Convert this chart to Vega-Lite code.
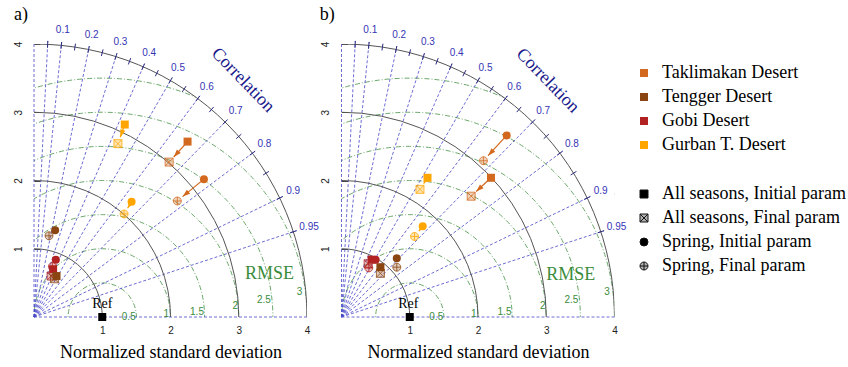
{
  "$schema": "https://vega.github.io/schema/vega-lite/v6.json",
  "padding": {"left": 13, "top": 6, "right": 0, "bottom": 0},
  "background": "white",
  "spacing": 34.5,
  "bounds": "flush",
  "config": {
    "view": {"stroke": null},
    "axis": {"grid": false, "domain": false, "labelFont": "Liberation Sans", "labelFontSize": 10, "labelColor": "#222222", "titleFont": "Liberation Serif", "titleFontSize": 18, "titleFontWeight": "normal", "titleColor": "black", "labelFlush": false, "labelBound": false}
  },
  "datasets": {
    "stdCircles": [{"x": 0, "y": 0, "r": 1}, {"x": 0, "y": 0, "r": 2}, {"x": 0, "y": 0, "r": 3}, {"x": 0, "y": 0, "r": 4}],
    "rmseCircles": [{"x": 1, "y": 0, "r": 0.5}, {"x": 1, "y": 0, "r": 1}, {"x": 1, "y": 0, "r": 1.5}, {"x": 1, "y": 0, "r": 2}, {"x": 1, "y": 0, "r": 2.5}, {"x": 1, "y": 0, "r": 3}, {"x": 1, "y": 0, "r": 3.5}],
    "mask": [{"x": 0, "y": 0, "r1": 4, "r2": 6, "t1": 0, "t2": 1.5708}],
    "corrLines": [
      {"c": 0, "x": 0, "y": 0, "x2": 0, "y2": 4},
      {"c": 0.05, "x": 0, "y": 0, "x2": 0.2025, "y2": 4.0449},
      {"c": 0.1, "x": 0, "y": 0, "x2": 0.405, "y2": 4.0297},
      {"c": 0.2, "x": 0, "y": 0, "x2": 0.81, "y2": 3.9682},
      {"c": 0.3, "x": 0, "y": 0, "x2": 1.215, "y2": 3.8635},
      {"c": 0.4, "x": 0, "y": 0, "x2": 1.62, "y2": 3.7119},
      {"c": 0.5, "x": 0, "y": 0, "x2": 2.025, "y2": 3.5074},
      {"c": 0.6, "x": 0, "y": 0, "x2": 2.43, "y2": 3.24},
      {"c": 0.7, "x": 0, "y": 0, "x2": 2.835, "y2": 2.8923},
      {"c": 0.8, "x": 0, "y": 0, "x2": 3.24, "y2": 2.43},
      {"c": 0.9, "x": 0, "y": 0, "x2": 3.645, "y2": 1.7654},
      {"c": 0.95, "x": 0, "y": 0, "x2": 3.8475, "y2": 1.2646},
      {"c": 1, "x": 0, "y": 0, "x2": 4, "y2": 0}
    ],
    "corrTicks": [
      {"x": 0.1975, "y": 3.9451, "x2": 0.2025, "y2": 4.0449},
      {"x": 0.395, "y": 3.9302, "x2": 0.405, "y2": 4.0297},
      {"x": 0.5925, "y": 3.9053, "x2": 0.6075, "y2": 4.0042},
      {"x": 0.79, "y": 3.8702, "x2": 0.81, "y2": 3.9682},
      {"x": 0.9875, "y": 3.8246, "x2": 1.0125, "y2": 3.9214},
      {"x": 1.185, "y": 3.7681, "x2": 1.215, "y2": 3.8635},
      {"x": 1.3825, "y": 3.7002, "x2": 1.4175, "y2": 3.7938},
      {"x": 1.58, "y": 3.6203, "x2": 1.62, "y2": 3.7119},
      {"x": 1.7775, "y": 3.5275, "x2": 1.8225, "y2": 3.6168},
      {"x": 1.975, "y": 3.4208, "x2": 2.025, "y2": 3.5074},
      {"x": 2.1725, "y": 3.2989, "x2": 2.2275, "y2": 3.3824},
      {"x": 2.37, "y": 3.16, "x2": 2.43, "y2": 3.24},
      {"x": 2.5675, "y": 3.0017, "x2": 2.6325, "y2": 3.0777},
      {"x": 2.765, "y": 2.8209, "x2": 2.835, "y2": 2.8923},
      {"x": 2.9625, "y": 2.6127, "x2": 3.0375, "y2": 2.6788},
      {"x": 3.16, "y": 2.37, "x2": 3.24, "y2": 2.43},
      {"x": 3.3575, "y": 2.0808, "x2": 3.4425, "y2": 2.1335},
      {"x": 3.555, "y": 1.7218, "x2": 3.645, "y2": 1.7654},
      {"x": 3.7525, "y": 1.2334, "x2": 3.8475, "y2": 1.2646}
    ],
    "corrLabels": [
      {"label": "0.1", "x": 0.422, "y": 4.199},
      {"label": "0.2", "x": 0.844, "y": 4.135},
      {"label": "0.3", "x": 1.266, "y": 4.026},
      {"label": "0.4", "x": 1.688, "y": 3.868},
      {"label": "0.5", "x": 2.11, "y": 3.655},
      {"label": "0.6", "x": 2.532, "y": 3.376},
      {"label": "0.7", "x": 2.954, "y": 3.014},
      {"label": "0.8", "x": 3.376, "y": 2.532},
      {"label": "0.9", "x": 3.798, "y": 1.839},
      {"label": "0.95", "x": 4.03, "y": 1.318}
    ],
    "rmseLabels": [
      {"label": "0.5", "x": 1.49, "y": 0.0},
      {"label": "1", "x": 1.98, "y": 0.04},
      {"label": "1.5", "x": 2.49, "y": 0.08},
      {"label": "2", "x": 2.99, "y": 0.16},
      {"label": "2.5", "x": 3.47, "y": 0.25},
      {"label": "3", "x": 3.93, "y": 0.36}
    ],
    "ref": [{"x": 1, "y": 0}],
    "initA": [
      {"desert": "Taklimakan Desert", "type": "All seasons, Initial param", "x": 2.25, "y": 2.57},
      {"desert": "Taklimakan Desert", "type": "Spring, Initial param", "x": 2.49, "y": 2.02},
      {"desert": "Gurban T. Desert", "type": "All seasons, Initial param", "x": 1.33, "y": 2.82},
      {"desert": "Gurban T. Desert", "type": "Spring, Initial param", "x": 1.43, "y": 1.69},
      {"desert": "Tengger Desert", "type": "Spring, Initial param", "x": 0.31, "y": 1.27},
      {"desert": "Gobi Desert", "type": "Spring, Initial param", "x": 0.32, "y": 0.84},
      {"desert": "Gobi Desert", "type": "All seasons, Initial param", "x": 0.28, "y": 0.7},
      {"desert": "Tengger Desert", "type": "All seasons, Initial param", "x": 0.33, "y": 0.6}
    ],
    "finalA": [
      {"desert": "Taklimakan Desert", "type": "All seasons, Final param", "x": 1.98, "y": 2.27},
      {"desert": "Taklimakan Desert", "type": "Spring, Final param", "x": 2.1, "y": 1.7},
      {"desert": "Gurban T. Desert", "type": "All seasons, Final param", "x": 1.23, "y": 2.54},
      {"desert": "Gurban T. Desert", "type": "Spring, Final param", "x": 1.32, "y": 1.51},
      {"desert": "Tengger Desert", "type": "Spring, Final param", "x": 0.22, "y": 1.19},
      {"desert": "Gobi Desert", "type": "Spring, Final param", "x": 0.27, "y": 0.74},
      {"desert": "Gobi Desert", "type": "All seasons, Final param", "x": 0.25, "y": 0.6},
      {"desert": "Tengger Desert", "type": "All seasons, Final param", "x": 0.3, "y": 0.56}
    ],
    "initB": [
      {"desert": "Taklimakan Desert", "type": "All seasons, Initial param", "x": 2.19, "y": 2.04},
      {"desert": "Taklimakan Desert", "type": "Spring, Initial param", "x": 2.42, "y": 2.66},
      {"desert": "Gurban T. Desert", "type": "All seasons, Initial param", "x": 1.26, "y": 2.04},
      {"desert": "Gurban T. Desert", "type": "Spring, Initial param", "x": 1.19, "y": 1.33},
      {"desert": "Tengger Desert", "type": "Spring, Initial param", "x": 0.81, "y": 0.86},
      {"desert": "Tengger Desert", "type": "All seasons, Initial param", "x": 0.57, "y": 0.73},
      {"desert": "Gobi Desert", "type": "Spring, Initial param", "x": 0.5, "y": 0.84},
      {"desert": "Gobi Desert", "type": "All seasons, Initial param", "x": 0.44, "y": 0.84}
    ],
    "finalB": [
      {"desert": "Taklimakan Desert", "type": "All seasons, Final param", "x": 1.9, "y": 1.77},
      {"desert": "Taklimakan Desert", "type": "Spring, Final param", "x": 2.08, "y": 2.29},
      {"desert": "Gurban T. Desert", "type": "All seasons, Final param", "x": 1.15, "y": 1.87},
      {"desert": "Gurban T. Desert", "type": "Spring, Final param", "x": 1.07, "y": 1.18},
      {"desert": "Tengger Desert", "type": "Spring, Final param", "x": 0.81, "y": 0.73},
      {"desert": "Tengger Desert", "type": "All seasons, Final param", "x": 0.57, "y": 0.64},
      {"desert": "Gobi Desert", "type": "Spring, Final param", "x": 0.4, "y": 0.72},
      {"desert": "Gobi Desert", "type": "All seasons, Final param", "x": 0.39, "y": 0.78}
    ],
    "arrowsA": [
      {"desert": "Gurban T. Desert", "x": 1.33, "y": 2.82, "x2": 1.264, "y2": 2.634, "heading": -160.5},
      {"desert": "Taklimakan Desert", "x": 2.25, "y": 2.57, "x2": 2.047, "y2": 2.344, "heading": -138.1},
      {"desert": "Taklimakan Desert", "x": 2.49, "y": 2.02, "x2": 2.177, "y2": 1.764, "heading": -129.3},
      {"desert": "Gurban T. Desert", "x": 1.43, "y": 1.69, "x2": 1.372, "y2": 1.595, "heading": -148.6}
    ],
    "arrowsB": [
      {"desert": "Taklimakan Desert", "x": 2.42, "y": 2.66, "x2": 2.148, "y2": 2.364, "heading": -137.4},
      {"desert": "Taklimakan Desert", "x": 2.19, "y": 2.04, "x2": 1.973, "y2": 1.838, "heading": -133.0},
      {"desert": "Gurban T. Desert", "x": 1.26, "y": 2.04, "x2": 1.204, "y2": 1.954, "heading": -146.9},
      {"desert": "Gurban T. Desert", "x": 1.19, "y": 1.33, "x2": 1.133, "y2": 1.258, "heading": -141.6}
    ]
  },
  "hconcat": [
    {
      "width": 273, "height": 273,
      "encoding": {
        "x": {"field": "x", "type": "quantitative", "scale": {"domain": [0, 4], "nice": false, "zero": true}, "axis": {"values": [1, 2, 3, 4], "ticks": false, "labelPadding": 8, "title": "Normalized standard deviation", "titlePadding": 8}},
        "y": {"field": "y", "type": "quantitative", "scale": {"domain": [0, 4], "nice": false, "zero": true}, "axis": {"values": [1, 2, 3, 4], "labelAngle": -90, "tickSize": -6, "tickColor": "#444444", "labelPadding": 17, "title": null}}
      },
      "layer": [
        {"data": {"name": "rmseCircles"}, "mark": {"type": "point", "shape": "circle", "filled": false, "clip": true, "opacity": 1, "stroke": "#5a9e5a", "strokeWidth": 0.9, "strokeDash": [5, 2, 1, 2]},
         "encoding": {"size": {"field": "r", "type": "quantitative", "scale": {"type": "pow", "exponent": 2, "domain": [0, 4], "range": [0, 298116]}, "legend": null}}},
        {"data": {"name": "mask"}, "mark": {"type": "arc", "fill": "white", "clip": true},
         "encoding": {
           "theta": {"field": "t1", "type": "quantitative", "scale": null},
           "theta2": {"field": "t2"},
           "radius": {"field": "r1", "type": "quantitative", "scale": {"type": "linear", "domain": [0, 4], "range": [0, 273], "zero": true}},
           "radius2": {"field": "r2"}}},
        {"data": {"name": "corrLines"}, "mark": {"type": "rule", "stroke": "#4646c8", "strokeWidth": 0.8, "strokeDash": [3, 2]},
         "encoding": {"x2": {"field": "x2"}, "y2": {"field": "y2"}}},
        {"data": {"name": "stdCircles"}, "mark": {"type": "point", "shape": "circle", "filled": false, "clip": true, "opacity": 1, "stroke": "#555555", "strokeWidth": 1},
         "encoding": {"size": {"field": "r", "type": "quantitative", "scale": {"type": "pow", "exponent": 2, "domain": [0, 4], "range": [0, 298116]}, "legend": null}}},
        {"data": {"name": "corrTicks"}, "mark": {"type": "rule", "stroke": "#2a2a80", "strokeWidth": 1},
         "encoding": {"x2": {"field": "x2"}, "y2": {"field": "y2"}}},
        {"data": {"name": "corrLabels"}, "mark": {"type": "text", "font": "Liberation Sans", "fontSize": 10, "fill": "#3535b5", "align": "center", "baseline": "middle"},
         "encoding": {"text": {"field": "label"}}},
        {"data": {"name": "rmseLabels"}, "mark": {"type": "text", "font": "Liberation Sans", "fontSize": 10, "fill": "#3c8c3c", "align": "right", "baseline": "middle"},
         "encoding": {"text": {"field": "label"}}},
        {"data": {"values": [{"t": "Correlation", "x": 3.06, "y": 3.47}]}, "mark": {"type": "text", "font": "Liberation Serif", "fontSize": 18, "fill": "#1a1a8c", "angle": 46, "align": "center", "baseline": "middle"},
         "encoding": {"text": {"field": "t"}}},
        {"data": {"values": [{"t": "RMSE", "x": 3.45, "y": 0.63}]}, "mark": {"type": "text", "font": "Liberation Serif", "fontSize": 18, "fill": "#3c8c3c", "align": "center", "baseline": "middle"},
         "encoding": {"text": {"field": "t"}}},
        {"data": {"values": [{"t": "Ref", "x": 1.0, "y": 0.19}]}, "mark": {"type": "text", "font": "Liberation Serif", "fontSize": 14, "fill": "black", "align": "center", "baseline": "middle"},
         "encoding": {"text": {"field": "t"}}},
        {"data": {"values": [{"t": "a)", "x": -0.19, "y": 4.42}]}, "mark": {"type": "text", "font": "Liberation Serif", "fontSize": 18, "fill": "black", "align": "center", "baseline": "middle"},
         "encoding": {"text": {"field": "t"}}},
        {"data": {"name": "ref"}, "mark": {"type": "point", "shape": "square", "filled": true, "fill": "black", "opacity": 1, "size": 64}},
        {"data": {"name": "arrowsA"}, "mark": {"type": "rule", "strokeWidth": 1.2},
         "encoding": {"x2": {"field": "x2"}, "y2": {"field": "y2"},
           "color": {"field": "desert", "type": "nominal", "scale": {"domain": ["Taklimakan Desert", "Tengger Desert", "Gobi Desert", "Gurban T. Desert"], "range": ["#D2691E", "#8B4513", "#B22222", "#FFA500"]},
             "legend": {"title": null, "orient": "none", "legendX": 601, "legendY": 20, "symbolType": "square", "symbolSize": 64, "symbolStrokeWidth": 0, "symbolOpacity": 1, "symbolFillColor": "black", "labelFont": "Liberation Serif", "labelFontSize": 18, "labelColor": "black", "labelOffset": 9, "labelLimit": 300, "rowPadding": 6, "padding": 0, "encode": {"symbols": {"update": {"fill": {"scale": "color", "field": "value"}, "fillOpacity": {"value": 1}, "strokeWidth": {"value": 0}, "opacity": {"value": 1}}}}}}}},
        {"data": {"name": "finalA"}, "mark": {"type": "point", "filled": true, "opacity": 1, "fillOpacity": 0.3, "strokeWidth": 0, "size": 64},
         "encoding": {
           "color": {"field": "desert", "type": "nominal", "scale": {"domain": ["Taklimakan Desert", "Tengger Desert", "Gobi Desert", "Gurban T. Desert"], "range": ["#D2691E", "#8B4513", "#B22222", "#FFA500"]},
             "legend": {"title": null, "orient": "none", "legendX": 601, "legendY": 20, "symbolType": "square", "symbolSize": 64, "symbolStrokeWidth": 0, "symbolOpacity": 1, "symbolFillColor": "black", "labelFont": "Liberation Serif", "labelFontSize": 18, "labelColor": "black", "labelOffset": 9, "labelLimit": 300, "rowPadding": 6, "padding": 0, "encode": {"symbols": {"update": {"fill": {"scale": "color", "field": "value"}, "fillOpacity": {"value": 1}, "strokeWidth": {"value": 0}, "opacity": {"value": 1}}}}}},
           "shape": {"field": "type", "type": "nominal", "scale": {"domain": ["All seasons, Initial param", "All seasons, Final param", "Spring, Initial param", "Spring, Final param"], "range": ["square", "M-1,-1H1V1H-1Z M-1,-1L1,1 M1,-1L-1,1", "circle", "M-1,0A1,1,0,1,0,1,0A1,1,0,1,0,-1,0Z M-1,0H1 M0,-1V1"]},
             "legend": {"title": null, "orient": "none", "legendX": 601, "legendY": 141, "symbolSize": 64, "symbolOpacity": 1, "symbolFillColor": "black", "symbolStrokeColor": "black", "labelFont": "Liberation Serif", "labelFontSize": 18, "labelColor": "black", "labelOffset": 9, "labelLimit": 300, "rowPadding": 6, "padding": 0, "encode": {"symbols": {"update": {"fill": {"signal": "indexof(datum.value, 'Final') >= 0 ? '#b0b0b0' : 'black'"}, "fillOpacity": {"value": 1}, "stroke": {"value": "#111111"}, "strokeWidth": {"value": 1}, "opacity": {"value": 1}}}}}}}},
        {"data": {"name": "finalA"}, "mark": {"type": "point", "filled": false, "opacity": 1, "strokeOpacity": 0.75, "strokeWidth": 1, "size": 64},
         "encoding": {
           "color": {"field": "desert", "type": "nominal", "scale": {"domain": ["Taklimakan Desert", "Tengger Desert", "Gobi Desert", "Gurban T. Desert"], "range": ["#D2691E", "#8B4513", "#B22222", "#FFA500"]},
             "legend": {"title": null, "orient": "none", "legendX": 601, "legendY": 20, "symbolType": "square", "symbolSize": 64, "symbolStrokeWidth": 0, "symbolOpacity": 1, "symbolFillColor": "black", "labelFont": "Liberation Serif", "labelFontSize": 18, "labelColor": "black", "labelOffset": 9, "labelLimit": 300, "rowPadding": 6, "padding": 0, "encode": {"symbols": {"update": {"fill": {"scale": "color", "field": "value"}, "fillOpacity": {"value": 1}, "strokeWidth": {"value": 0}, "opacity": {"value": 1}}}}}},
           "shape": {"field": "type", "type": "nominal", "scale": {"domain": ["All seasons, Initial param", "All seasons, Final param", "Spring, Initial param", "Spring, Final param"], "range": ["square", "M-1,-1H1V1H-1Z M-1,-1L1,1 M1,-1L-1,1", "circle", "M-1,0A1,1,0,1,0,1,0A1,1,0,1,0,-1,0Z M-1,0H1 M0,-1V1"]},
             "legend": {"title": null, "orient": "none", "legendX": 601, "legendY": 141, "symbolSize": 64, "symbolOpacity": 1, "symbolFillColor": "black", "symbolStrokeColor": "black", "labelFont": "Liberation Serif", "labelFontSize": 18, "labelColor": "black", "labelOffset": 9, "labelLimit": 300, "rowPadding": 6, "padding": 0, "encode": {"symbols": {"update": {"fill": {"signal": "indexof(datum.value, 'Final') >= 0 ? '#b0b0b0' : 'black'"}, "fillOpacity": {"value": 1}, "stroke": {"value": "#111111"}, "strokeWidth": {"value": 1}, "opacity": {"value": 1}}}}}}}},
        {"data": {"name": "arrowsA"}, "mark": {"type": "point", "shape": "M0,0L-0.75,2.2L0.75,2.2Z", "filled": true, "opacity": 1, "size": 49},
         "encoding": {
           "x": {"field": "x2", "type": "quantitative"},
           "y": {"field": "y2", "type": "quantitative"},
           "angle": {"field": "heading", "type": "quantitative", "scale": null},
           "color": {"field": "desert", "type": "nominal", "scale": {"domain": ["Taklimakan Desert", "Tengger Desert", "Gobi Desert", "Gurban T. Desert"], "range": ["#D2691E", "#8B4513", "#B22222", "#FFA500"]},
             "legend": {"title": null, "orient": "none", "legendX": 601, "legendY": 20, "symbolType": "square", "symbolSize": 64, "symbolStrokeWidth": 0, "symbolOpacity": 1, "symbolFillColor": "black", "labelFont": "Liberation Serif", "labelFontSize": 18, "labelColor": "black", "labelOffset": 9, "labelLimit": 300, "rowPadding": 6, "padding": 0, "encode": {"symbols": {"update": {"fill": {"scale": "color", "field": "value"}, "fillOpacity": {"value": 1}, "strokeWidth": {"value": 0}, "opacity": {"value": 1}}}}}}}},
        {"data": {"name": "initA"}, "mark": {"type": "point", "filled": true, "opacity": 1, "size": 64},
         "encoding": {
           "color": {"field": "desert", "type": "nominal", "scale": {"domain": ["Taklimakan Desert", "Tengger Desert", "Gobi Desert", "Gurban T. Desert"], "range": ["#D2691E", "#8B4513", "#B22222", "#FFA500"]},
             "legend": {"title": null, "orient": "none", "legendX": 601, "legendY": 20, "symbolType": "square", "symbolSize": 64, "symbolStrokeWidth": 0, "symbolOpacity": 1, "symbolFillColor": "black", "labelFont": "Liberation Serif", "labelFontSize": 18, "labelColor": "black", "labelOffset": 9, "labelLimit": 300, "rowPadding": 6, "padding": 0, "encode": {"symbols": {"update": {"fill": {"scale": "color", "field": "value"}, "fillOpacity": {"value": 1}, "strokeWidth": {"value": 0}, "opacity": {"value": 1}}}}}},
           "shape": {"field": "type", "type": "nominal", "scale": {"domain": ["All seasons, Initial param", "All seasons, Final param", "Spring, Initial param", "Spring, Final param"], "range": ["square", "M-1,-1H1V1H-1Z M-1,-1L1,1 M1,-1L-1,1", "circle", "M-1,0A1,1,0,1,0,1,0A1,1,0,1,0,-1,0Z M-1,0H1 M0,-1V1"]},
             "legend": {"title": null, "orient": "none", "legendX": 601, "legendY": 141, "symbolSize": 64, "symbolOpacity": 1, "symbolFillColor": "black", "symbolStrokeColor": "black", "labelFont": "Liberation Serif", "labelFontSize": 18, "labelColor": "black", "labelOffset": 9, "labelLimit": 300, "rowPadding": 6, "padding": 0, "encode": {"symbols": {"update": {"fill": {"signal": "indexof(datum.value, 'Final') >= 0 ? '#b0b0b0' : 'black'"}, "fillOpacity": {"value": 1}, "stroke": {"value": "#111111"}, "strokeWidth": {"value": 1}, "opacity": {"value": 1}}}}}}}}
      ]
    },
    {
      "width": 273, "height": 273,
      "encoding": {
        "x": {"field": "x", "type": "quantitative", "scale": {"domain": [0, 4], "nice": false, "zero": true}, "axis": {"values": [1, 2, 3, 4], "ticks": false, "labelPadding": 8, "title": "Normalized standard deviation", "titlePadding": 8}},
        "y": {"field": "y", "type": "quantitative", "scale": {"domain": [0, 4], "nice": false, "zero": true}, "axis": {"values": [1, 2, 3, 4], "labelAngle": -90, "tickSize": -6, "tickColor": "#444444", "labelPadding": 17, "title": null}}
      },
      "layer": [
        {"data": {"name": "rmseCircles"}, "mark": {"type": "point", "shape": "circle", "filled": false, "clip": true, "opacity": 1, "stroke": "#5a9e5a", "strokeWidth": 0.9, "strokeDash": [5, 2, 1, 2]},
         "encoding": {"size": {"field": "r", "type": "quantitative", "scale": {"type": "pow", "exponent": 2, "domain": [0, 4], "range": [0, 298116]}, "legend": null}}},
        {"data": {"name": "mask"}, "mark": {"type": "arc", "fill": "white", "clip": true},
         "encoding": {
           "theta": {"field": "t1", "type": "quantitative", "scale": null},
           "theta2": {"field": "t2"},
           "radius": {"field": "r1", "type": "quantitative", "scale": {"type": "linear", "domain": [0, 4], "range": [0, 273], "zero": true}},
           "radius2": {"field": "r2"}}},
        {"data": {"name": "corrLines"}, "mark": {"type": "rule", "stroke": "#4646c8", "strokeWidth": 0.8, "strokeDash": [3, 2]},
         "encoding": {"x2": {"field": "x2"}, "y2": {"field": "y2"}}},
        {"data": {"name": "stdCircles"}, "mark": {"type": "point", "shape": "circle", "filled": false, "clip": true, "opacity": 1, "stroke": "#555555", "strokeWidth": 1},
         "encoding": {"size": {"field": "r", "type": "quantitative", "scale": {"type": "pow", "exponent": 2, "domain": [0, 4], "range": [0, 298116]}, "legend": null}}},
        {"data": {"name": "corrTicks"}, "mark": {"type": "rule", "stroke": "#2a2a80", "strokeWidth": 1},
         "encoding": {"x2": {"field": "x2"}, "y2": {"field": "y2"}}},
        {"data": {"name": "corrLabels"}, "mark": {"type": "text", "font": "Liberation Sans", "fontSize": 10, "fill": "#3535b5", "align": "center", "baseline": "middle"},
         "encoding": {"text": {"field": "label"}}},
        {"data": {"name": "rmseLabels"}, "mark": {"type": "text", "font": "Liberation Sans", "fontSize": 10, "fill": "#3c8c3c", "align": "right", "baseline": "middle"},
         "encoding": {"text": {"field": "label"}}},
        {"data": {"values": [{"t": "Correlation", "x": 3.02, "y": 3.46}]}, "mark": {"type": "text", "font": "Liberation Serif", "fontSize": 18, "fill": "#1a1a8c", "angle": 46, "align": "center", "baseline": "middle"},
         "encoding": {"text": {"field": "t"}}},
        {"data": {"values": [{"t": "RMSE", "x": 3.36, "y": 0.62}]}, "mark": {"type": "text", "font": "Liberation Serif", "fontSize": 18, "fill": "#3c8c3c", "align": "center", "baseline": "middle"},
         "encoding": {"text": {"field": "t"}}},
        {"data": {"values": [{"t": "Ref", "x": 0.98, "y": 0.19}]}, "mark": {"type": "text", "font": "Liberation Serif", "fontSize": 14, "fill": "black", "align": "center", "baseline": "middle"},
         "encoding": {"text": {"field": "t"}}},
        {"data": {"values": [{"t": "b)", "x": -0.21, "y": 4.42}]}, "mark": {"type": "text", "font": "Liberation Serif", "fontSize": 18, "fill": "black", "align": "center", "baseline": "middle"},
         "encoding": {"text": {"field": "t"}}},
        {"data": {"name": "ref"}, "mark": {"type": "point", "shape": "square", "filled": true, "fill": "black", "opacity": 1, "size": 64}},
        {"data": {"name": "arrowsB"}, "mark": {"type": "rule", "strokeWidth": 1.2},
         "encoding": {"x2": {"field": "x2"}, "y2": {"field": "y2"},
           "color": {"field": "desert", "type": "nominal", "scale": {"domain": ["Taklimakan Desert", "Tengger Desert", "Gobi Desert", "Gurban T. Desert"], "range": ["#D2691E", "#8B4513", "#B22222", "#FFA500"]},
             "legend": {"title": null, "orient": "none", "legendX": 601, "legendY": 20, "symbolType": "square", "symbolSize": 64, "symbolStrokeWidth": 0, "symbolOpacity": 1, "symbolFillColor": "black", "labelFont": "Liberation Serif", "labelFontSize": 18, "labelColor": "black", "labelOffset": 9, "labelLimit": 300, "rowPadding": 6, "padding": 0, "encode": {"symbols": {"update": {"fill": {"scale": "color", "field": "value"}, "fillOpacity": {"value": 1}, "strokeWidth": {"value": 0}, "opacity": {"value": 1}}}}}}}},
        {"data": {"name": "finalB"}, "mark": {"type": "point", "filled": true, "opacity": 1, "fillOpacity": 0.3, "strokeWidth": 0, "size": 64},
         "encoding": {
           "color": {"field": "desert", "type": "nominal", "scale": {"domain": ["Taklimakan Desert", "Tengger Desert", "Gobi Desert", "Gurban T. Desert"], "range": ["#D2691E", "#8B4513", "#B22222", "#FFA500"]},
             "legend": {"title": null, "orient": "none", "legendX": 601, "legendY": 20, "symbolType": "square", "symbolSize": 64, "symbolStrokeWidth": 0, "symbolOpacity": 1, "symbolFillColor": "black", "labelFont": "Liberation Serif", "labelFontSize": 18, "labelColor": "black", "labelOffset": 9, "labelLimit": 300, "rowPadding": 6, "padding": 0, "encode": {"symbols": {"update": {"fill": {"scale": "color", "field": "value"}, "fillOpacity": {"value": 1}, "strokeWidth": {"value": 0}, "opacity": {"value": 1}}}}}},
           "shape": {"field": "type", "type": "nominal", "scale": {"domain": ["All seasons, Initial param", "All seasons, Final param", "Spring, Initial param", "Spring, Final param"], "range": ["square", "M-1,-1H1V1H-1Z M-1,-1L1,1 M1,-1L-1,1", "circle", "M-1,0A1,1,0,1,0,1,0A1,1,0,1,0,-1,0Z M-1,0H1 M0,-1V1"]},
             "legend": {"title": null, "orient": "none", "legendX": 601, "legendY": 141, "symbolSize": 64, "symbolOpacity": 1, "symbolFillColor": "black", "symbolStrokeColor": "black", "labelFont": "Liberation Serif", "labelFontSize": 18, "labelColor": "black", "labelOffset": 9, "labelLimit": 300, "rowPadding": 6, "padding": 0, "encode": {"symbols": {"update": {"fill": {"signal": "indexof(datum.value, 'Final') >= 0 ? '#b0b0b0' : 'black'"}, "fillOpacity": {"value": 1}, "stroke": {"value": "#111111"}, "strokeWidth": {"value": 1}, "opacity": {"value": 1}}}}}}}},
        {"data": {"name": "finalB"}, "mark": {"type": "point", "filled": false, "opacity": 1, "strokeOpacity": 0.75, "strokeWidth": 1, "size": 64},
         "encoding": {
           "color": {"field": "desert", "type": "nominal", "scale": {"domain": ["Taklimakan Desert", "Tengger Desert", "Gobi Desert", "Gurban T. Desert"], "range": ["#D2691E", "#8B4513", "#B22222", "#FFA500"]},
             "legend": {"title": null, "orient": "none", "legendX": 601, "legendY": 20, "symbolType": "square", "symbolSize": 64, "symbolStrokeWidth": 0, "symbolOpacity": 1, "symbolFillColor": "black", "labelFont": "Liberation Serif", "labelFontSize": 18, "labelColor": "black", "labelOffset": 9, "labelLimit": 300, "rowPadding": 6, "padding": 0, "encode": {"symbols": {"update": {"fill": {"scale": "color", "field": "value"}, "fillOpacity": {"value": 1}, "strokeWidth": {"value": 0}, "opacity": {"value": 1}}}}}},
           "shape": {"field": "type", "type": "nominal", "scale": {"domain": ["All seasons, Initial param", "All seasons, Final param", "Spring, Initial param", "Spring, Final param"], "range": ["square", "M-1,-1H1V1H-1Z M-1,-1L1,1 M1,-1L-1,1", "circle", "M-1,0A1,1,0,1,0,1,0A1,1,0,1,0,-1,0Z M-1,0H1 M0,-1V1"]},
             "legend": {"title": null, "orient": "none", "legendX": 601, "legendY": 141, "symbolSize": 64, "symbolOpacity": 1, "symbolFillColor": "black", "symbolStrokeColor": "black", "labelFont": "Liberation Serif", "labelFontSize": 18, "labelColor": "black", "labelOffset": 9, "labelLimit": 300, "rowPadding": 6, "padding": 0, "encode": {"symbols": {"update": {"fill": {"signal": "indexof(datum.value, 'Final') >= 0 ? '#b0b0b0' : 'black'"}, "fillOpacity": {"value": 1}, "stroke": {"value": "#111111"}, "strokeWidth": {"value": 1}, "opacity": {"value": 1}}}}}}}},
        {"data": {"name": "arrowsB"}, "mark": {"type": "point", "shape": "M0,0L-0.75,2.2L0.75,2.2Z", "filled": true, "opacity": 1, "size": 49},
         "encoding": {
           "x": {"field": "x2", "type": "quantitative"},
           "y": {"field": "y2", "type": "quantitative"},
           "angle": {"field": "heading", "type": "quantitative", "scale": null},
           "color": {"field": "desert", "type": "nominal", "scale": {"domain": ["Taklimakan Desert", "Tengger Desert", "Gobi Desert", "Gurban T. Desert"], "range": ["#D2691E", "#8B4513", "#B22222", "#FFA500"]},
             "legend": {"title": null, "orient": "none", "legendX": 601, "legendY": 20, "symbolType": "square", "symbolSize": 64, "symbolStrokeWidth": 0, "symbolOpacity": 1, "symbolFillColor": "black", "labelFont": "Liberation Serif", "labelFontSize": 18, "labelColor": "black", "labelOffset": 9, "labelLimit": 300, "rowPadding": 6, "padding": 0, "encode": {"symbols": {"update": {"fill": {"scale": "color", "field": "value"}, "fillOpacity": {"value": 1}, "strokeWidth": {"value": 0}, "opacity": {"value": 1}}}}}}}},
        {"data": {"name": "initB"}, "mark": {"type": "point", "filled": true, "opacity": 1, "size": 64},
         "encoding": {
           "color": {"field": "desert", "type": "nominal", "scale": {"domain": ["Taklimakan Desert", "Tengger Desert", "Gobi Desert", "Gurban T. Desert"], "range": ["#D2691E", "#8B4513", "#B22222", "#FFA500"]},
             "legend": {"title": null, "orient": "none", "legendX": 601, "legendY": 20, "symbolType": "square", "symbolSize": 64, "symbolStrokeWidth": 0, "symbolOpacity": 1, "symbolFillColor": "black", "labelFont": "Liberation Serif", "labelFontSize": 18, "labelColor": "black", "labelOffset": 9, "labelLimit": 300, "rowPadding": 6, "padding": 0, "encode": {"symbols": {"update": {"fill": {"scale": "color", "field": "value"}, "fillOpacity": {"value": 1}, "strokeWidth": {"value": 0}, "opacity": {"value": 1}}}}}},
           "shape": {"field": "type", "type": "nominal", "scale": {"domain": ["All seasons, Initial param", "All seasons, Final param", "Spring, Initial param", "Spring, Final param"], "range": ["square", "M-1,-1H1V1H-1Z M-1,-1L1,1 M1,-1L-1,1", "circle", "M-1,0A1,1,0,1,0,1,0A1,1,0,1,0,-1,0Z M-1,0H1 M0,-1V1"]},
             "legend": {"title": null, "orient": "none", "legendX": 601, "legendY": 141, "symbolSize": 64, "symbolOpacity": 1, "symbolFillColor": "black", "symbolStrokeColor": "black", "labelFont": "Liberation Serif", "labelFontSize": 18, "labelColor": "black", "labelOffset": 9, "labelLimit": 300, "rowPadding": 6, "padding": 0, "encode": {"symbols": {"update": {"fill": {"signal": "indexof(datum.value, 'Final') >= 0 ? '#b0b0b0' : 'black'"}, "fillOpacity": {"value": 1}, "stroke": {"value": "#111111"}, "strokeWidth": {"value": 1}, "opacity": {"value": 1}}}}}}}}
      ]
    }
  ]
}
